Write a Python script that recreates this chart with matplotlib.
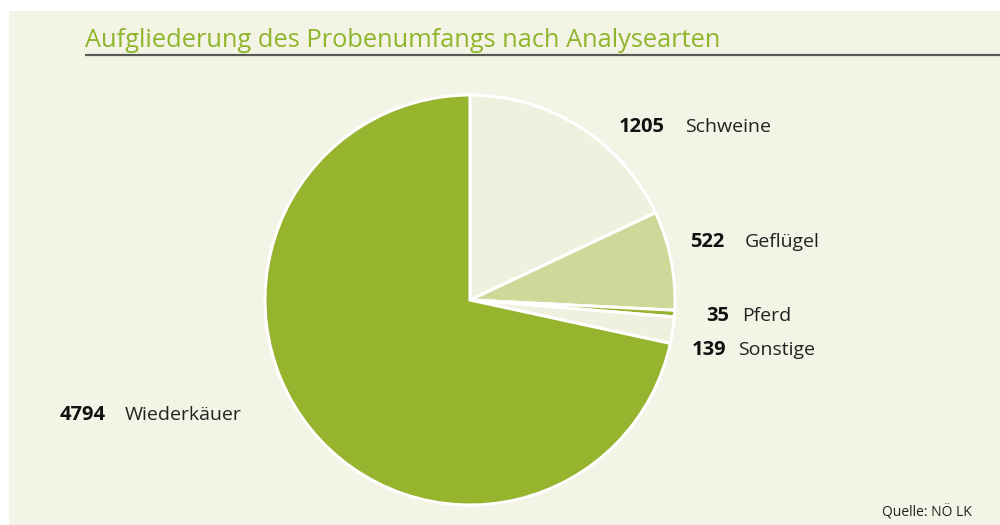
import matplotlib.pyplot as plt
from matplotlib.patches import Rectangle

# data
categories = ["Schweine", "Geflügel", "Pferd", "Sonstige", "Wiederkäuer"]
counts = [1205, 522, 35, 139, 4794]
colors = ["#eff1de", "#cdd899", "#97b42e", "#eff1de", "#97b42e"]

W, H = 1000, 525
BG = "#f3f3e6"

plt.rcParams["font.family"] = ["Open Sans", "DejaVu Sans"]

fig = plt.figure(figsize=(10, 5.25), dpi=100)
fig.patch.set_facecolor("white")
ax = fig.add_axes([0, 0, 1, 1])


# pixel coords -> axes data (y measured from top)
def py(y):
    return H - y


# pie
ax.pie(counts, colors=colors, startangle=90, counterclock=False,
       center=(470, py(300)), radius=205, frame=True,
       wedgeprops=dict(edgecolor="white", linewidth=2.2))
ax.set_xlim(0, W)
ax.set_ylim(0, H)
ax.set_aspect("equal")
ax.axis("off")

# panel background
ax.add_patch(Rectangle((9, 0), W - 9, py(11), facecolor=BG, edgecolor="none", zorder=-1))

# title + rule
ax.text(85, py(47), "Aufgliederung des Probenumfangs nach Analysearten",
        fontsize=18.3, color="#8fb52a", ha="left", va="baseline")
ax.plot([85, W], [py(54.5), py(54.5)], color="#5a5a55", lw=1.6, solid_capstyle="butt")

# labels: (right edge of number, start of name, y)
label_pos = {
    "Schweine": (665, 685, 127),
    "Geflügel": (724, 745, 242),
    "Pferd": (729, 742, 316),
    "Sonstige": (726, 738, 350),
    "Wiederkäuer": (106, 125, 415),
}
for cat, n in zip(categories, counts):
    xr, xt, y = label_pos[cat]
    ax.text(xr, py(y), str(n), fontsize=14.5, fontweight="bold", color="#111111",
            ha="right", va="center")
    ax.text(xt, py(y), cat, fontsize=14, color="#222222", ha="left", va="center")

ax.text(972, py(512), "Quelle: NÖ LK", fontsize=10, color="#222222",
        ha="right", va="center")

fig.savefig("out.png", dpi=100, facecolor=fig.get_facecolor())
